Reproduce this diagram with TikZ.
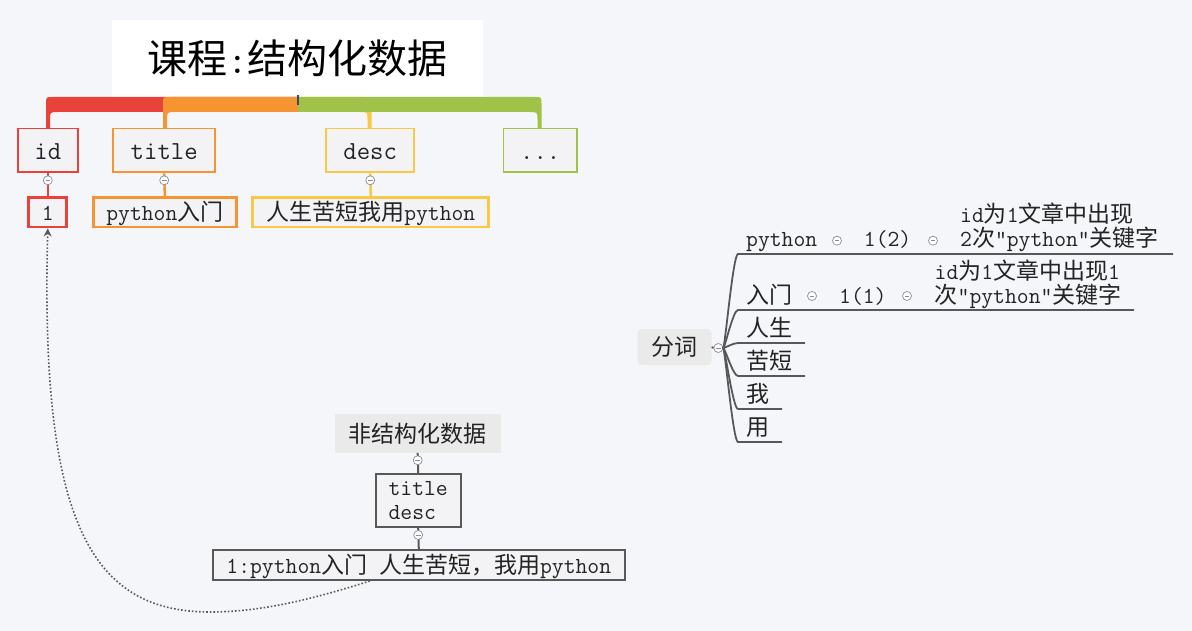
\documentclass[tikz,border=0pt]{standalone}
\usepackage{fontspec}
\newfontfamily\cjk{Noto Sans CJK SC}
\newcommand{\zh}[1]{{\cjk #1}}
\newcommand{\sizetitle}{\fontsize{40}{44}\selectfont\ttfamily}
\newcommand{\sizetop}{\fontsize{26}{28}\selectfont\ttfamily}
\newcommand{\sizeitem}{\fontsize{23}{24}\selectfont\ttfamily}
\usetikzlibrary{arrows.meta, calc}
\definecolor{canvasbg}{RGB}{245,246,250}
\definecolor{branchred}{RGB}{232,66,58}
\definecolor{branchorange}{RGB}{246,148,50}
\definecolor{branchyellow}{RGB}{247,201,70}
\definecolor{branchgreen}{RGB}{160,194,72}
\definecolor{boxfill}{RGB}{243,243,245}
\definecolor{tagfill}{RGB}{234,234,234}
\definecolor{darkline}{RGB}{88,88,88}
\definecolor{foldgray}{RGB}{140,140,150}
\definecolor{hubmark}{RGB}{60,70,110}
\definecolor{inkdark}{RGB}{35,35,35}

\begin{document}
\begin{tikzpicture}[x=1pt, y=-1pt,
    fieldbox/.style={draw=#1, line width=1.8pt, fill=boxfill, inner sep=0pt, minimum height=43.8, font=\sizetop, text=inkdark, text height=20pt, text depth=2.6pt},
    valuebox/.style={draw=#1, line width=2.8pt, fill=boxfill, inner sep=0pt, minimum height=29.7, font=\sizeitem, text=inkdark, text height=19.5pt, text depth=2.3pt},
    plainbox/.style={draw=darkline, line width=2pt, fill=boxfill, inner sep=0pt, font=\sizeitem, text=inkdark},
    tagbox/.style={fill=tagfill, inner sep=0pt, font=\sizeitem, text=inkdark, text height=19.5pt, text depth=2.3pt},
    itemtext/.style={inner sep=0pt, font=\sizeitem, text=inkdark},
    fold/.style={circle, draw=foldgray, fill=white, line width=0.7pt, inner sep=0pt, minimum size=9,
        path picture={\draw[foldgray, line width=0.7pt] ([xshift=-2.3pt]path picture bounding box.center) -- ([xshift=2.3pt]path picture bounding box.center);}},
    fanline/.style={darkline, line width=1.8pt}]
    \useasboundingbox (0,0) rectangle (1192,631);
    \fill[canvasbg] (0,0) rectangle (1192,631);

    % Course title
    \node[fill=white, minimum width=371, minimum height=77, inner sep=0pt, font=\sizetitle, text=black] (course) at (297.5,58.5) {\zh{课程}:\zh{结构化数据}};

    % Branch bands from the hub
    \foreach \cx/\col in {48/branchred, 165/branchorange} {
        \fill[\col] (298,97) -- (\cx+5,97) .. controls (\cx-2,97) .. (\cx-2,104) -- (\cx-2,128) -- (\cx+2,128) -- (\cx+2,120) .. controls (\cx+2,112) .. (\cx+10,112) -- (298,112) -- cycle;
    }
    \foreach \cx/\col in {369.5/branchyellow, 539.5/branchgreen} {
        \fill[\col] (298,97) -- (\cx-5,97) .. controls (\cx+2,97) .. (\cx+2,104) -- (\cx+2,128) -- (\cx-2,128) -- (\cx-2,120) .. controls (\cx-2,112) .. (\cx-10,112) -- (298,112) -- cycle;
    }
    \draw[hubmark, line width=2pt] ($(course.south)+(0.5,-2)$) -- ++(0,10);

    % Field boxes
    \node[fieldbox=branchred, minimum width=60] (id) at (47.8,150.5) {id};
    \node[fieldbox=branchorange, minimum width=102.3] (title) at (164.2,150.5) {title};
    \node[fieldbox=branchyellow, minimum width=88] (desc) at (370.2,150.5) {desc};
    \node[fieldbox=branchgreen, minimum width=73.6] (more) at (540.2,150.5) {...};

    % Field values
    \node[valuebox=branchred, minimum width=38] (idval) at (47.8,212.2) {1};
    \node[valuebox=branchorange, minimum width=143.6] (titleval) at (164.9,212.2) {python\zh{入门}};
    \node[valuebox=branchyellow, minimum width=236] (descval) at (370.8,212.2) {\zh{人生苦短我用}python};

    \draw[branchred, line width=2.5pt] (id.south) -- (idval.north);
    \draw[branchorange, line width=2.5pt] (title.south) -- (titleval.north);
    \draw[branchyellow, line width=2.5pt] (desc.south) -- (descval.north);
    \node[fold] at ($(id.south)+(0,7)$) {};
    \node[fold] at ($(title.south)+(0,7)$) {};
    \node[fold] at ($(desc.south)+(0,7)$) {};

    % Unstructured data
    \node[tagbox, minimum width=166, minimum height=38.7] (unstruct) at (417.7,433.4) {\zh{非结构化数据}};
    \node[plainbox, minimum width=85, minimum height=52.4, align=left] (fields) at (418.2,500.5) {title\\desc};
    \node[plainbox, minimum width=412, minimum height=29.7, text height=19.5pt, text depth=2.3pt] (raw) at (418.8,565.2) {1:python\zh{入门} \zh{人生苦短，我用}python};
    \draw[darkline, line width=2pt] (unstruct.south) -- (fields.north);
    \draw[darkline, line width=2pt] (fields.south) -- (raw.north);
    \node[fold] at ($(unstruct.south)+(0,7.3)$) {};
    \node[fold] at ($(fields.south)+(0,7.3)$) {};

    % Back reference to the id value
    \draw[darkline, line width=1.6pt, dotted, -{Stealth[length=8pt, width=8pt]}] ($(raw.south)+(-49,0)$) .. controls (310,600) and (260,612) .. (210,612) .. controls (90,612) and (40,520) .. (idval.south);

    % Word segmentation
    \node[tagbox, rounded corners=4pt, minimum width=74, minimum height=36] (fenci) at (674.5,347) {\zh{分词}};
    \node[fold] (fc) at (718.3,348) {};
    \draw[fanline] (fenci.east) -- (fc.west);
    \foreach \y/\xe/\name in {254/1173/wpython, 310/1134/wrumen, 343/805/wrensheng, 376/805/wkuduan, 409/782/wwo, 442/782/wyong} {
        \coordinate (\name-end) at (\xe,\y);
        \draw[fanline] (fc.east) .. controls (725,348) and (733,\y) .. (738,\y) -- (\name-end);
    }

    \node[itemtext, anchor=base west] (python) at (746,247) {python};
    \node[fold] (fpython) at (837,240.7) {};
    \node[itemtext, anchor=base west] (cnttwo) at (863.7,247) {1(2)};
    \node[fold] (fcnttwo) at (933,240.7) {};
    \node[itemtext, anchor=base west, align=left] (notetwo) at (960,247) {id\zh{为}1\zh{文章中出现}\\2\zh{次}"python"\zh{关键字}};

    \node[itemtext, anchor=base west] (rumen) at (746,303) {\zh{入门}};
    \node[fold] (frumen) at (812,296) {};
    \node[itemtext, anchor=base west] (cntone) at (839,303) {1(1)};
    \node[fold] (fcntone) at (907,296) {};
    \node[itemtext, anchor=base west, align=left] (noteone) at (934.5,303) {id\zh{为}1\zh{文章中出现}1\\\zh{次}"python"\zh{关键字}};

    \foreach \y/\word/\name in {336/人生/rensheng, 369/苦短/kuduan, 402/我/wo, 435/用/yong}
        \node[itemtext, anchor=base west] (\name) at (746,\y) {\zh{\word}};
\end{tikzpicture}
\end{document}
